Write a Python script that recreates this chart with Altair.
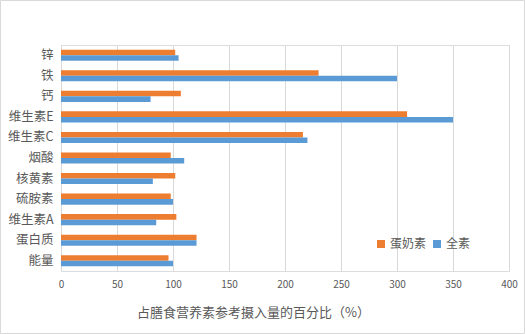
import altair as alt
import pandas as pd

categories = ["锌", "铁", "钙", "维生素E", "维生素C", "烟酸", "核黄素", "硫胺素", "维生素A", "蛋白质", "能量"]
series_names = ["蛋奶素", "全素"]
egg_milk = [102, 230, 107, 309, 216, 98, 102, 98, 103, 121, 96]
vegan = [105, 300, 80, 350, 220, 110, 82, 100, 85, 121, 100]
x_ticks = [0, 50, 100, 150, 200, 250, 300, 350, 400]

rows = []
for c, a, b in zip(categories, egg_milk, vegan):
    rows.append({"cat": c, "series": series_names[0], "value": a})
    rows.append({"cat": c, "series": series_names[1], "value": b})
df = pd.DataFrame(rows)

font = "Noto Sans CJK SC"
txt = "#595959"

bars = alt.Chart(df).mark_bar().encode(
    y=alt.Y("cat:N", sort=categories,
            scale=alt.Scale(paddingInner=0.46, paddingOuter=0.23),
            axis=alt.Axis(title=None, domain=False, ticks=False, labelPadding=8,
                          labelFontSize=12.5, labelColor=txt, labelFont=font)),
    yOffset=alt.YOffset("series:N", sort=series_names),
    x=alt.X("value:Q", scale=alt.Scale(domain=[0, 400], nice=False),
            axis=alt.Axis(values=x_ticks, title="占膳食营养素参考摄入量的百分比（%）",
                          domain=False, ticks=False, labelPadding=8, labelFlush=False,
                          labelFontSize=10, labelColor=txt, labelFont=font,
                          gridColor="#D9D9D9", gridWidth=1,
                          titleFontSize=13, titleFontWeight="normal", titleColor=txt, titleFont=font,
                          titleX=192, titleY=41, titleAlign="center", titleBaseline="middle")),
    color=alt.Color("series:N", sort=series_names,
                    scale=alt.Scale(domain=series_names, range=["#ED7D31", "#5B9BD5"]),
                    legend=alt.Legend(title=None, orient="none", direction="horizontal",
                                      legendX=314, legendY=193, symbolType="square",
                                      symbolSize=64, labelFontSize=12, labelColor=txt,
                                      labelFont=font, columnPadding=4, labelOffset=3)),
)

frame = alt.Chart(pd.DataFrame({"k": [0]})).mark_rect(
    fill=None, stroke="#D9D9D9", strokeWidth=1
).encode(
    x=alt.value(-60.5), x2=alt.value(463.5),
    y=alt.value(-44.5), y2=alt.value(288.5),
)

chart = alt.layer(bars, frame).properties(
    width=448, height=226,
    autosize=alt.AutoSizeParams(type="none"),
    padding={"left": 61, "top": 45, "right": 16, "bottom": 63},
).configure_view(stroke=None).configure(background="white")

chart.save("out.html", embed_options={"renderer": "svg", "actions": False})
